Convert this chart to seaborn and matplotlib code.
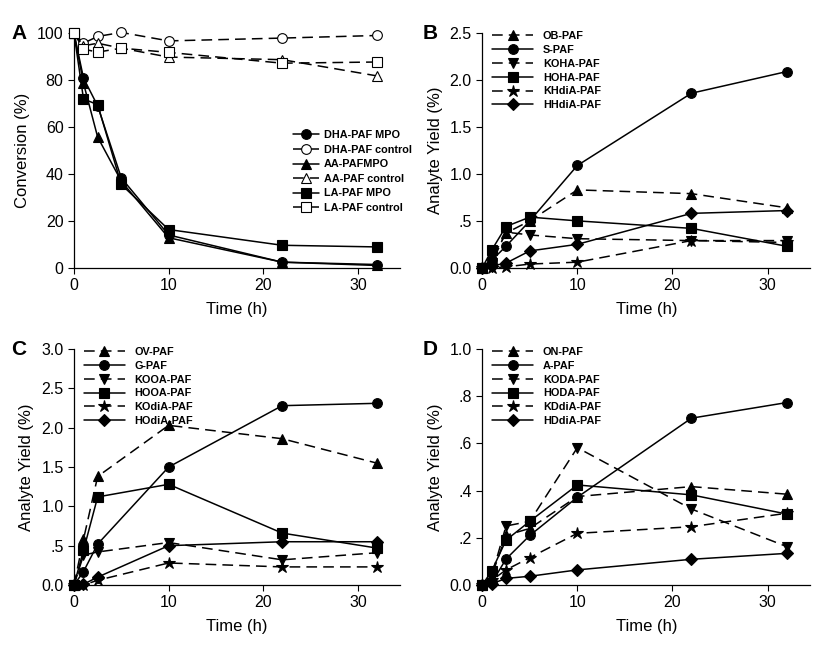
import matplotlib
matplotlib.use("Agg")
import matplotlib.pyplot as plt
import seaborn as sns

# time points (h)
t = [0, 1, 2.5, 5, 10, 22, 32]
t_c = [0, 1, 2.5, 10, 22, 32]

# panel A - conversion (%)
dha_mpo = [100, 80.9, 69.0, 38.3, 14.0, 2.4, 1.4]
dha_ctrl = [100, 95.7, 98.6, 100.3, 96.7, 97.9, 99.0]
aa_mpo = [100, 78.7, 55.7, 36.9, 12.8, 2.4, 1.0]
aa_ctrl = [100, 94.6, 95.7, 93.6, 89.8, 88.7, 81.8]
la_mpo = [100, 72.0, 69.5, 35.5, 16.3, 9.6, 8.9]
la_ctrl = [100, 93.2, 91.9, 93.6, 91.8, 87.2, 87.7]
labels_a = ["DHA-PAF MPO", "DHA-PAF control", "AA-PAFMPO",
            "AA-PAF control", "LA-PAF MPO", "LA-PAF control"]

# panel B - analyte yield (%)
ob = [0, 0.10, 0.37, 0.50, 0.83, 0.79, 0.64]
s_paf = [0, 0.08, 0.23, 0.50, 1.09, 1.86, 2.09]
koha = [0, 0.05, 0.38, 0.35, 0.31, 0.29, 0.29]
hoha = [0, 0.19, 0.44, 0.54, 0.50, 0.42, 0.23]
khdia = [0, 0.0, 0.01, 0.04, 0.06, 0.29, 0.27]
hhdia = [0, 0.02, 0.05, 0.18, 0.25, 0.58, 0.61]
labels_b = ["OB-PAF", "S-PAF", "KOHA-PAF", "HOHA-PAF", "KHdiA-PAF", "HHdiA-PAF"]

# panel C
ov = [0, 0.58, 1.38, 2.03, 1.86, 1.55]
g_paf = [0, 0.17, 0.52, 1.50, 2.28, 2.31]
kooa = [0, 0.38, 0.42, 0.54, 0.32, 0.41]
hooa = [0, 0.44, 1.12, 1.28, 0.66, 0.47]
kodia = [0, 0.0, 0.06, 0.28, 0.23, 0.23]
hodia = [0, 0.01, 0.10, 0.50, 0.55, 0.55]
labels_c = ["OV-PAF", "G-PAF", "KOOA-PAF", "HOOA-PAF", "KOdiA-PAF", "HOdiA-PAF"]

# panel D
on = [0, 0.04, 0.21, 0.24, 0.375, 0.417, 0.385]
a_paf = [0, 0.01, 0.11, 0.21, 0.372, 0.707, 0.773]
koda = [0, 0.04, 0.25, 0.27, 0.582, 0.322, 0.163]
hoda = [0, 0.06, 0.19, 0.27, 0.424, 0.382, 0.301]
kddia = [0, 0.02, 0.064, 0.116, 0.219, 0.247, 0.304]
hddia = [0, 0.005, 0.028, 0.037, 0.064, 0.109, 0.134]
labels_d = ["ON-PAF", "A-PAF", "KODA-PAF", "HODA-PAF", "KDdiA-PAF", "HDdiA-PAF"]

# tick labels
yt_a = [0, 20, 40, 60, 80, 100]
yl_a = ["0", "20", "40", "60", "80", "100"]
yt_b = [0, 0.5, 1.0, 1.5, 2.0, 2.5]
yl_b = ["0.0", ".5", "1.0", "1.5", "2.0", "2.5"]
yt_c = [0, 0.5, 1.0, 1.5, 2.0, 2.5, 3.0]
yl_c = ["0.0", ".5", "1.0", "1.5", "2.0", "2.5", "3.0"]
yt_d = [0, 0.2, 0.4, 0.6, 0.8, 1.0]
yl_d = ["0.0", ".2", ".4", ".6", ".8", "1.0"]

sns.set_style("ticks")
plt.rcParams["font.family"] = ["Liberation Sans", "DejaVu Sans"]
plt.rcParams["xtick.direction"] = "out"
plt.rcParams["ytick.direction"] = "out"
for key in ["text.color", "axes.labelcolor", "xtick.color", "ytick.color", "axes.edgecolor"]:
    plt.rcParams[key] = "black"

DASH = (0, (7, 4))
SOLID = "-"

fig = plt.figure(figsize=(8.16, 6.5), dpi=100)
ax_a = fig.add_axes([0.0907, 0.588, 0.400, 0.361])
ax_b = fig.add_axes([0.591, 0.588, 0.402, 0.361])
ax_c = fig.add_axes([0.0907, 0.100, 0.400, 0.363])
ax_d = fig.add_axes([0.591, 0.100, 0.402, 0.363])


def draw(ax, x, y, label, marker, ls, open_marker=False, ms=7):
    fc = "white" if open_marker else "black"
    sns.lineplot(x=x, y=y, ax=ax, color="black", marker=marker, linestyle=ls,
                 linewidth=1.1, markersize=ms, markerfacecolor=fc,
                 markeredgecolor="black", markeredgewidth=0.8,
                 label=label, clip_on=False, zorder=3)


def finish(ax, yticks, ylabels, ylabel, letter, lx):
    ax.set_xlim(0, 34.5)
    ax.set_ylim(yticks[0], yticks[-1])
    ax.set_xticks([0, 10, 20, 30])
    ax.set_yticks(yticks)
    ax.set_yticklabels(ylabels)
    ax.tick_params(labelsize=11.5, length=4, width=0.8, color="black")
    ax.set_xlabel("Time (h)", fontsize=12, labelpad=6)
    ax.set_ylabel(ylabel, fontsize=12, labelpad=5)
    for sp in ["left", "bottom"]:
        ax.spines[sp].set_linewidth(0.9)
    sns.despine(ax=ax)
    pos = ax.get_position()
    fig.text(lx, pos.y1, letter, fontsize=15, fontweight="bold",
             ha="left", va="center")


# panel A
draw(ax_a, t, dha_mpo, labels_a[0], "o", SOLID)
draw(ax_a, t, dha_ctrl, labels_a[1], "o", DASH, open_marker=True)
draw(ax_a, t, aa_mpo, labels_a[2], "^", SOLID)
draw(ax_a, t, aa_ctrl, labels_a[3], "^", DASH, open_marker=True)
draw(ax_a, t, la_mpo, labels_a[4], "s", SOLID, ms=6.5)
draw(ax_a, t, la_ctrl, labels_a[5], "s", DASH, open_marker=True, ms=6.5)
finish(ax_a, yt_a, yl_a, "Conversion (%)", "A", 0.014)
ax_a.legend(loc="center left", bbox_to_anchor=(0.64, 0.41), frameon=False,
            handlelength=2.4, handletextpad=0.5, labelspacing=0.42,
            prop={"weight": "bold", "size": 7.8})

# panels B-D share the same marker scheme
markers = ["^", "o", "v", "s", "*", "D"]
styles = [DASH, SOLID, DASH, SOLID, DASH, SOLID]
sizes = [7, 7, 7, 6.5, 9, 6]

panels = [
    (ax_b, t, [ob, s_paf, koha, hoha, khdia, hhdia], labels_b, yt_b, yl_b, "B", 0.518),
    (ax_c, t_c, [ov, g_paf, kooa, hooa, kodia, hodia], labels_c, yt_c, yl_c, "C", 0.014),
    (ax_d, t, [on, a_paf, koda, hoda, kddia, hddia], labels_d, yt_d, yl_d, "D", 0.518),
]

for ax, x, series, labels, yt, yl, letter, lx in panels:
    for y, lab, m, ls, ms in zip(series, labels, markers, styles, sizes):
        draw(ax, x, y, lab, m, ls, ms=ms)
    finish(ax, yt, yl, "Analyte Yield (%)", letter, lx)
    ax.legend(loc="upper left", bbox_to_anchor=(0.0, 1.05), frameon=False,
              handlelength=3.8, handletextpad=0.9, labelspacing=0.35,
              prop={"weight": "bold", "size": 7.8})

fig.savefig("out.png", dpi=100)
